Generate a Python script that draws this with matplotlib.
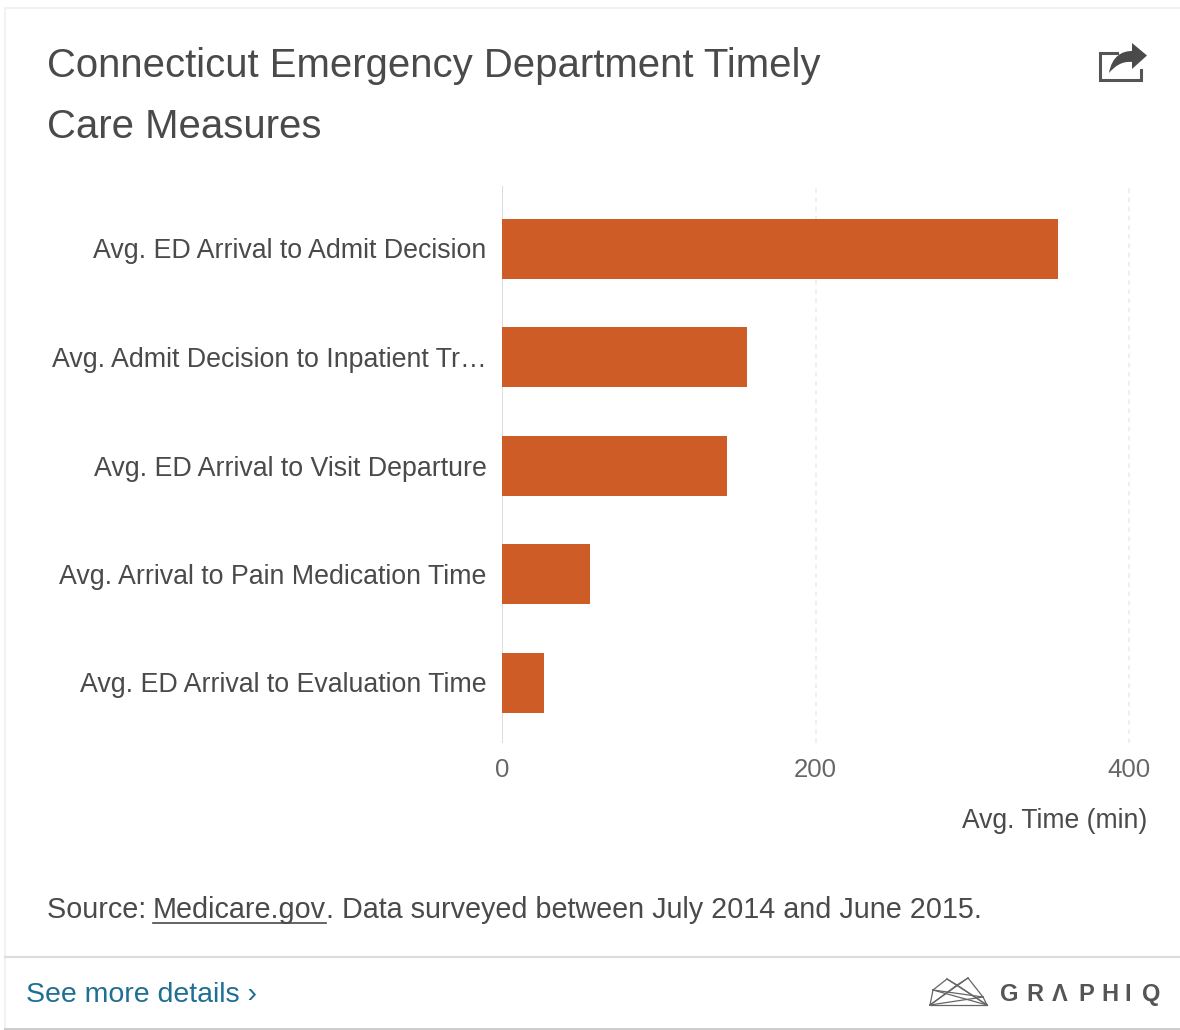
import matplotlib
matplotlib.use("Agg")
import matplotlib.pyplot as plt
from matplotlib.patches import PathPatch
from matplotlib.path import Path

categories = ["Avg. ED Arrival to Admit Decision", "Avg. Admit Decision to Inpatient Tr\u2026",
              "Avg. ED Arrival to Visit Departure", "Avg. Arrival to Pain Medication Time",
              "Avg. ED Arrival to Evaluation Time"]
values = [355, 156, 143.5, 56, 27]
xticks = [0, 200, 400]

W, H = 1180, 1030
plt.rcParams['font.family'] = ['Liberation Sans', 'DejaVu Sans']
fig = plt.figure(figsize=(W/100, H/100), dpi=100, facecolor='white')

# overlay in pixel coordinates
ov = fig.add_axes([0, 0, 1, 1])
ov.set_xlim(0, W); ov.set_ylim(H, 0); ov.axis('off')

# card frame
ov.plot([5, 1180], [8, 8], color='#f0f0f0', lw=1.2)
ov.plot([5, 5], [8, 1030], color='#f0f0f0', lw=1.2)
ov.plot([5, 1180], [957, 957], color='#dddddd', lw=1.6)
ov.plot([5, 1180], [1028.5, 1028.5], color='#cccccc', lw=1.4)

tc = '#4a4a4a'
ov.text(47, 66, "Connecticut Emergency Department Timely", fontsize=28.9, color=tc, va='center', ha='left')
ov.text(47, 126.5, "Care Measures", fontsize=28.9, color=tc, va='center', ha='left')

# share icon
ov.plot([1117, 1099.5, 1099.5, 1140.5, 1140.5], [53, 53, 79.5, 79.5, 70], color='#555555', lw=2.2,
        solid_joinstyle='miter')
arrow = Path([(1109, 73), (1112, 56), (1122, 51), (1132, 51), (1132, 43), (1147, 55.5),
              (1132, 69), (1132, 62), (1122, 61), (1115, 66), (1109, 73), (1109, 73)],
             [Path.MOVETO, Path.CURVE4, Path.CURVE4, Path.CURVE4, Path.LINETO, Path.LINETO,
              Path.LINETO, Path.LINETO, Path.CURVE4, Path.CURVE4, Path.CURVE4, Path.CLOSEPOLY])
ov.add_patch(PathPatch(arrow, fc='#4a4a4a', ec='none', zorder=3))

# source
src_y = 910.5
ov.text(47, src_y, "Source: ", fontsize=20.7, color=tc, va='center', ha='left')
fig.canvas.draw()
r = fig.canvas.get_renderer()
x = 153
t2 = ov.text(x, src_y, "Medicare.gov", fontsize=20.7, color=tc, va='center', ha='left')
bb = t2.get_window_extent(r)
ov.plot([x, bb.x1], [923, 923], color=tc, lw=1.2)
ov.text(bb.x1, src_y, ". Data surveyed between July 2014 and June 2015.", fontsize=20.7, color=tc, va='center', ha='left')

# footer
ov.text(26, 995, "See more details \u203a", fontsize=20.5, color='#1f6f94', va='center', ha='left')
logo_letters = ["G", "R", "\u039b", "P", "H", "I", "Q"]
logo_x = [1009, 1035, 1060, 1086, 1110, 1128, 1151]
for ch, lxp in zip(logo_letters, logo_x):
    ov.text(lxp, 992, ch, fontsize=17, color='#555555', va='center_baseline', ha='center', fontweight='bold')
pts = {'bl': (930, 1005), 'br': (987, 1005), 'p1': (947, 979), 'p2': (968, 978), 'v': (957, 985),
       'sl': (933, 990), 'sr': (983, 997)}
for a, b in [('bl', 'sl'), ('sl', 'p1'), ('p1', 'v'), ('v', 'p2'), ('p2', 'sr'), ('sr', 'br'), ('bl', 'br'),
             ('bl', 'p2'), ('bl', 'sr'), ('bl', 'v'), ('p1', 'br'), ('sl', 'br'), ('v', 'br'), ('sl', 'sr')]:
    ov.plot([pts[a][0], pts[b][0]], [pts[a][1], pts[b][1]], color='#666666', lw=0.9)

# chart
x0, x400 = 502, 1129
top, bottom = 186, 743
ax = fig.add_axes([x0/W, 1-bottom/H, (1180-x0)/W, (bottom-top)/H])
ax.patch.set_alpha(0)
ax.set_xlim(0, 400*(1180-x0)/(x400-x0))
ax.set_ylim((bottom-248.5)/108.5, (top-248.5)/108.5)
for g in xticks[1:]:
    ax.axvline(g, color='#ebebeb', lw=1.1, ls=(0, (3, 3)), zorder=0)
ax.axvline(0, color='#dcdcdc', lw=1.4, zorder=1)
ypos = list(range(len(categories)))
ax.barh(ypos, values, height=60/108.5, color='#cd5c27', zorder=2)
for s in ax.spines.values():
    s.set_visible(False)
ax.set_yticks(ypos)
ax.set_yticklabels(categories, fontsize=19.25, color=tc)
ax.tick_params(axis='y', length=0, pad=11)
ax.set_xticks(xticks)
ax.set_xticklabels([str(v) for v in xticks], fontsize=18.6, color='#666666')
ax.tick_params(axis='x', length=0, pad=10.5)
ov.text(1147, 821, "Avg. Time (min)", fontsize=19.1, color=tc, va='center', ha='right')

fig.savefig("out.png", dpi=100, facecolor='white')
